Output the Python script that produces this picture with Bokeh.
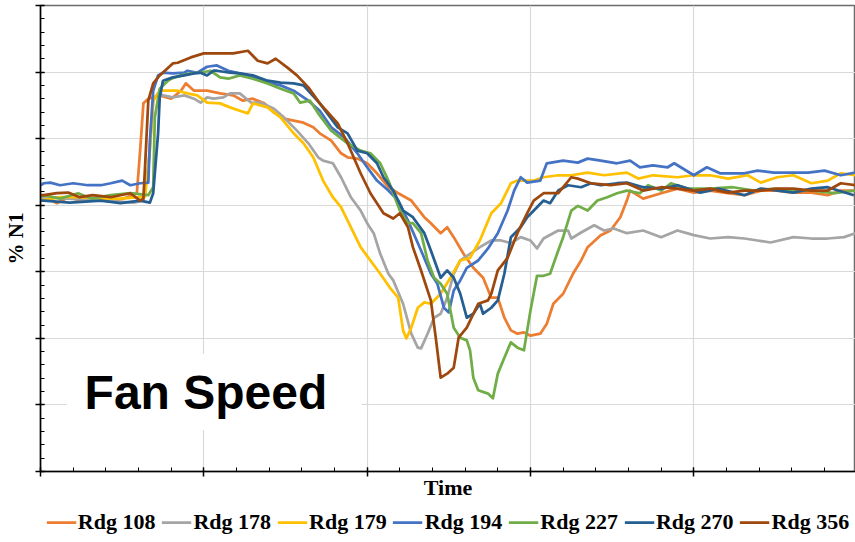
import math
from bokeh.plotting import figure
from bokeh.layouts import column
from bokeh.models import (Range1d, SingleIntervalTicker, Legend, LegendItem, Label,
                          BoxAnnotation, CustomJSTickFormatter)
from bokeh.embed import file_html
from bokeh.resources import INLINE

# ---------------- data (time in s, fan speed in % N1) ----------------
series_names = ["Rdg 108", "Rdg 178", "Rdg 179", "Rdg 194", "Rdg 227", "Rdg 270", "Rdg 356"]
series_colors = ["#ED7D31", "#A5A5A5", "#FFC000", "#4472C4", "#70AD47", "#255E91", "#9E480E"]

rdg108 = [(0.0,71.2),(0.2,71.5),(1.0,70.3),(1.7,71.2),(2.4,70.7),(3.5,71.0),(4.3,70.7),(5.1,71.0),
          (5.9,71.8),(6.1,78.2),(6.3,85.3),(6.6,86.0),(7.3,86.5),(8.0,86.0),(8.6,87.2),(8.9,88.3),
          (9.4,87.2),(10.2,87.2),(11.0,86.8),(11.8,86.5),(12.4,85.7),(13.0,86.0),(13.7,85.3),(14.3,83.9),
          (14.9,83.0),(15.5,82.7),(16.1,82.4),(16.7,81.7),(17.1,80.8),(17.8,79.7),(18.4,77.8),(18.8,77.2),
          (19.4,77.0),(20.0,76.3),(20.6,74.8),(21.3,72.7),(21.9,71.8),(22.7,70.7),(23.5,68.2),(23.9,67.3),
          (24.5,65.8),(24.9,66.7),(25.3,65.2),(25.9,62.7),(26.5,60.6),(27.1,59.1),(27.6,56.1),(28.0,56.1),
          (28.4,53.1),(28.8,51.2),(29.2,50.7),(29.6,50.9),(30.0,50.4),(30.6,50.7),(31.0,52.2),(31.4,55.2),
          (32.0,56.7),(32.6,59.7),(33.1,61.7),(33.5,63.7),(34.3,65.5),(34.9,66.2),(35.5,68.2),(35.9,70.7),
          (36.1,72.2),(36.9,71.0),(38.0,71.8),(39.0,72.5),(40.0,71.9),(41.0,72.2),(42.1,71.8),(43.1,71.5),
          (44.1,72.2),(45.1,72.2),(46.1,71.9),(47.2,71.9),(48.2,71.5),(49.0,72.2),(49.9,72.2)]

rdg178 = [(0.0,71.0),(0.2,71.2),(1.7,71.0),(3.7,70.7),(5.7,70.4),(6.3,70.7),(6.6,75.7),(6.9,85.7),
          (7.2,86.8),(7.5,86.5),(8.1,86.2),(8.8,86.5),(9.4,86.0),(9.8,85.4),(10.2,86.2),(10.6,86.0),
          (11.2,86.2),(11.6,86.8),(12.2,86.8),(12.9,85.4),(13.5,85.4),(14.3,84.5),(14.9,83.2),(15.7,81.2),
          (16.4,79.3),(17.0,77.2),(17.3,76.7),(17.9,76.3),(18.4,74.2),(19.0,71.2),(19.6,69.2),(20.0,67.3),
          (20.4,65.8),(20.8,62.7),(21.3,59.7),(21.6,58.7),(22.2,55.2),(22.7,50.7),(23.1,48.6),(23.3,48.5),
          (23.7,50.7),(24.1,53.1),(24.5,53.7),(24.9,56.1),(25.3,59.7),(25.7,61.7),(26.3,62.7),(26.9,63.7),
          (27.6,64.7),(28.2,64.7),(28.8,64.3),(29.4,65.2),(30.0,64.7),(30.4,63.5),(30.8,65.0),(31.7,66.2),
          (32.3,66.2),(32.5,65.0),(33.1,65.9),(33.9,67.0),(34.5,66.2),(35.1,66.5),(35.9,65.8),(36.9,66.2),
          (38.0,65.2),(39.0,66.2),(40.0,65.5),(41.0,65.0),(42.1,65.2),(43.1,65.0),(43.9,64.7),(44.7,64.4),
          (46.1,65.2),(47.2,65.0),(48.2,65.0),(49.2,65.2),(49.9,65.8)]

rdg179 = [(0.0,70.7),(1.2,71.2),(2.4,71.2),(3.7,71.0),(4.9,71.0),(6.4,71.3),(6.7,78.2),(6.9,85.7),
          (7.3,87.2),(7.8,87.2),(8.4,87.2),(9.0,86.8),(9.6,86.5),(10.2,85.4),(11.0,85.3),(11.6,84.7),
          (12.2,84.2),(12.7,83.8),(13.0,85.3),(13.9,84.7),(14.7,83.2),(15.5,80.8),(16.1,79.3),(16.7,77.2),
          (17.3,73.7),(17.9,71.2),(18.4,69.7),(19.0,66.7),(19.6,63.7),(20.2,61.7),(20.8,59.7),(21.4,57.6),
          (21.9,56.1),(22.2,51.2),(22.4,50.0),(22.7,51.6),(23.1,54.6),(23.5,55.4),(23.9,55.2),(24.5,56.7),
          (25.1,59.1),(25.7,61.7),(26.3,62.1),(26.9,64.7),(27.6,68.8),(28.2,70.3),(28.8,73.3),(29.2,73.7),
          (30.2,73.7),(30.8,74.2),(31.7,74.5),(32.5,74.5),(33.5,74.9),(34.5,74.5),(35.9,74.9),(36.6,74.0),
          (37.5,74.5),(39.0,74.2),(40.0,74.5),(41.0,74.5),(42.1,74.0),(43.3,74.5),(44.1,73.4),(45.1,74.2),
          (46.1,74.5),(47.2,73.3),(48.2,73.7),(49.0,74.8),(49.9,74.5)]

rdg194 = [(0.0,73.0),(0.2,73.3),(0.6,73.4),(1.2,73.0),(2.0,73.3),(2.9,73.0),(3.7,73.0),(4.3,73.3),
          (5.0,73.7),(5.5,73.0),(6.1,73.3),(6.6,73.4),(6.7,79.7),(6.9,87.2),(7.2,89.5),(7.5,89.9),
          (8.1,89.8),(8.8,89.9),(9.0,90.2),(9.6,89.9),(10.2,90.8),(10.8,91.0),(11.5,90.2),(12.2,89.8),
          (13.0,89.2),(13.9,88.4),(14.7,88.0),(15.5,87.2),(16.4,85.7),(17.1,84.2),(17.8,81.7),(18.6,80.2),
          (19.4,77.8),(20.0,75.7),(20.6,73.7),(21.3,72.2),(21.9,70.7),(22.5,67.7),(23.3,63.2),(23.9,59.7),
          (24.3,58.2),(24.7,54.6),(25.0,53.9),(25.3,57.2),(25.7,58.7),(26.1,60.6),(26.8,61.7),(27.4,63.5),
          (28.0,65.8),(28.6,69.2),(29.0,72.2),(29.4,74.2),(29.8,73.4),(30.6,73.7),(31.0,76.3),(32.0,76.7),
          (32.9,76.4),(33.5,77.0),(34.3,76.7),(35.3,76.3),(36.1,76.7),(36.7,75.7),(37.5,76.0),(38.4,75.7),
          (38.8,76.3),(40.0,74.5),(40.8,75.7),(41.6,74.8),(43.1,74.8),(43.9,75.2),(44.9,74.9),(46.1,74.9),
          (47.0,74.9),(48.0,75.2),(49.0,74.5),(49.9,74.9)]

rdg227 = [(0.0,71.2),(0.2,71.5),(1.2,71.0),(2.3,71.8),(3.1,71.0),(4.3,71.5),(5.5,71.8),(6.6,71.5),
          (6.9,72.7),(7.0,83.2),(7.3,87.5),(7.8,88.7),(8.0,89.0),(8.6,89.5),(9.2,89.8),(9.8,89.9),
          (10.4,90.2),(11.0,89.2),(11.5,89.0),(12.2,89.5),(13.0,89.0),(13.9,88.3),(14.7,87.5),(15.5,86.8),
          (15.9,85.4),(16.5,85.7),(17.0,83.8),(17.8,81.2),(18.8,79.3),(19.6,78.2),(20.2,77.8),(20.8,76.3),
          (21.3,73.7),(21.6,71.8),(22.0,69.2),(22.5,67.3),(22.8,67.3),(23.3,65.8),(23.7,61.7),(24.1,59.1),
          (24.5,58.2),(24.9,56.7),(25.3,51.6),(25.7,50.1),(26.1,49.7),(26.3,48.2),(26.5,44.1),(26.8,42.2),
          (27.4,41.7),(27.7,41.0),(28.0,44.7),(28.4,47.1),(28.8,49.4),(29.2,48.6),(29.6,48.2),(30.0,54.2),
          (30.4,59.4),(30.8,59.4),(31.2,59.7),(31.7,63.2),(32.0,65.2),(32.5,69.2),(32.9,69.9),(33.5,69.2),
          (34.1,70.7),(34.7,71.2),(35.3,71.8),(35.9,72.2),(36.7,71.8),(37.2,73.0),(38.0,72.2),(38.6,73.3),
          (39.6,72.5),(41.0,72.5),(42.4,72.7),(43.7,72.2),(44.9,72.5),(46.1,72.2),(47.3,72.2),(48.6,71.8),
          (49.9,72.2)]

rdg270 = [(0.0,70.7),(0.2,70.7),(1.8,70.4),(3.7,70.7),(4.9,70.3),(6.1,70.7),(6.7,70.4),(6.9,71.8),
          (7.2,80.8),(7.3,86.2),(7.5,88.7),(8.1,89.2),(8.8,89.5),(9.4,89.8),(9.8,89.9),(10.2,89.5),
          (10.6,90.2),(10.8,90.2),(11.6,89.9),(12.2,89.8),(13.0,89.5),(13.9,88.7),(14.7,88.4),(15.5,88.3),
          (16.1,88.0),(17.1,85.3),(18.2,81.7),(18.8,80.8),(19.4,78.2),(20.0,77.8),(20.6,76.3),(21.0,74.2),
          (21.6,72.2),(22.2,69.2),(22.8,68.2),(23.5,65.8),(23.9,63.2),(24.5,59.1),(24.9,60.2),(25.3,59.1),
          (25.7,56.7),(26.1,53.1),(26.5,53.7),(26.9,55.2),(27.1,53.7),(27.6,54.6),(28.0,55.7),(28.4,59.7),
          (28.8,65.2),(29.4,66.7),(29.8,68.2),(30.4,69.7),(30.8,70.7),(31.2,70.3),(31.7,72.2),(32.3,73.0),
          (33.1,72.7),(33.7,73.3),(34.3,73.0),(35.3,73.3),(35.9,73.4),(36.9,72.7),(38.0,72.5),(39.0,73.0),
          (40.4,71.9),(41.5,72.5),(43.1,71.5),(44.1,72.5),(46.1,71.9),(47.2,72.5),(48.2,72.7),(49.8,71.5)]

rdg356 = [(0.0,71.5),(0.2,71.5),(1.0,71.8),(1.7,71.9),(2.4,71.2),(3.2,71.5),(4.3,71.2),(5.5,71.8),
          (6.1,70.7),(6.3,71.0),(6.4,75.7),(6.6,85.7),(6.9,88.3),(7.3,89.5),(8.1,91.3),(8.4,91.4),
          (9.2,92.2),(10.0,92.8),(11.0,92.8),(11.8,92.8),(12.7,93.2),(13.3,91.7),(13.9,91.3),(14.4,92.0),
          (15.1,90.7),(15.7,89.5),(16.4,87.7),(17.1,85.3),(18.2,82.3),(18.8,79.3),(19.6,74.8),(20.2,71.8),
          (21.0,68.8),(21.6,68.0),(22.0,68.8),(22.5,66.7),(22.8,63.7),(23.3,60.2),(23.9,55.7),(24.2,50.1),
          (24.5,44.1),(24.9,44.7),(25.3,45.6),(25.6,50.1),(26.1,51.6),(26.8,55.2),(27.4,55.7),(27.6,56.7),
          (28.0,60.2),(28.6,62.1),(29.2,65.8),(29.8,68.8),(30.2,70.7),(30.8,71.8),(31.7,71.8),(32.0,72.7),
          (32.5,74.2),(32.9,74.0),(33.7,73.3),(34.9,73.0),(35.9,73.3),(36.9,72.2),(38.0,72.7),(39.0,72.5),
          (40.0,72.2),(41.0,72.5),(42.1,71.9),(43.1,72.2),(44.1,72.2),(45.1,72.5),(46.1,72.5),(47.2,72.2),
          (48.2,72.2),(49.0,73.3),(49.9,73.0)]

all_series = [rdg108, rdg178, rdg179, rdg194, rdg227, rdg270, rdg356]

x_label = "Time"
y_label = "% N1"
annotation_text = "Fan Speed"

LINE_W = 2.75

# ---------------- main chart ----------------
p = figure(width=855, height=510, frame_width=815, frame_height=466,
           output_backend="svg", toolbar_location=None,
           x_range=Range1d(0, 49.9), y_range=Range1d(30, 100),
           min_border_left=40, min_border_right=0, min_border_top=5, min_border_bottom=0,
           background_fill_color="white", border_fill_color="white")
p.outline_line_color = "#6b6b6b"
p.outline_line_width = 1.5

empty_fmt = CustomJSTickFormatter(code="return ''")
p.xaxis.ticker = SingleIntervalTicker(interval=10, num_minor_ticks=5)
p.yaxis.ticker = SingleIntervalTicker(interval=10, num_minor_ticks=5)
for ax in (p.xaxis[0], p.yaxis[0]):
    ax.axis_line_color = "black"
    ax.axis_line_width = 1.5
    ax.major_tick_in = 4
    ax.major_tick_out = 5
    ax.minor_tick_in = 4
    ax.minor_tick_out = 0
    ax.major_tick_line_color = "black"
    ax.minor_tick_line_color = "black"
    ax.major_tick_line_width = 1.5
    ax.minor_tick_line_width = 1
    ax.formatter = empty_fmt
    ax.major_label_text_font_size = "0px"
    ax.major_label_standoff = 0
    ax.axis_label_text_font = "Liberation Serif"
    ax.axis_label_text_font_style = "bold"
    ax.axis_label_text_color = "black"

p.xaxis.axis_label = x_label
p.xaxis.axis_label_text_font_size = "22px"
p.xaxis.axis_label_standoff = -2

p.yaxis.axis_label = y_label
p.yaxis.axis_label_text_font_size = "21px"
p.yaxis.axis_label_standoff = 8

p.grid.grid_line_color = "#D9D9D9"
p.grid.grid_line_width = 1.2

for color, data in zip(series_colors, all_series):
    xs = [d[0] for d in data]
    ys = [d[1] for d in data]
    p.line(xs, ys, line_color=color, line_width=LINE_W, line_join="round")

box = BoxAnnotation(left=1.6, right=19.66, bottom=36.2, top=47.7,
                    fill_color="white", fill_alpha=1.0, line_alpha=0)
p.add_layout(box)
p.add_layout(Label(x=2.7, y=41.9, text=annotation_text, text_font="Liberation Sans",
                   text_font_style="bold", text_font_size="48px", text_color="black",
                   text_baseline="middle", text_align="left"))

# ---------------- legend strip ----------------
lf = figure(width=855, height=32, output_backend="svg", toolbar_location=None,
            x_range=Range1d(0, 1), y_range=Range1d(0, 1),
            x_axis_location=None, y_axis_location=None,
            min_border_left=14, min_border_right=0, min_border_top=7, min_border_bottom=0,
            background_fill_color="white", border_fill_color="white")
lf.outline_line_color = None
lf.grid.visible = False

items = []
for name, color in zip(series_names, series_colors):
    # off-range stub renderer: only used for the legend swatch, never visible in the strip
    r = lf.line([-5, -4], [-5, -5], line_color=color, line_width=LINE_W)
    items.append(LegendItem(label=name, renderers=[r]))

legend = Legend(items=items, orientation="horizontal", location="center",
                label_text_font="Liberation Serif", label_text_font_style="bold",
                label_text_font_size="22px", label_text_color="black",
                glyph_width=30, glyph_height=20, label_standoff=2, spacing=6,
                padding=0, margin=0, border_line_alpha=0, background_fill_alpha=0)
lf.add_layout(legend)

layout = column(p, lf, spacing=0)
open("out.html", "w").write(file_html(layout, INLINE))
